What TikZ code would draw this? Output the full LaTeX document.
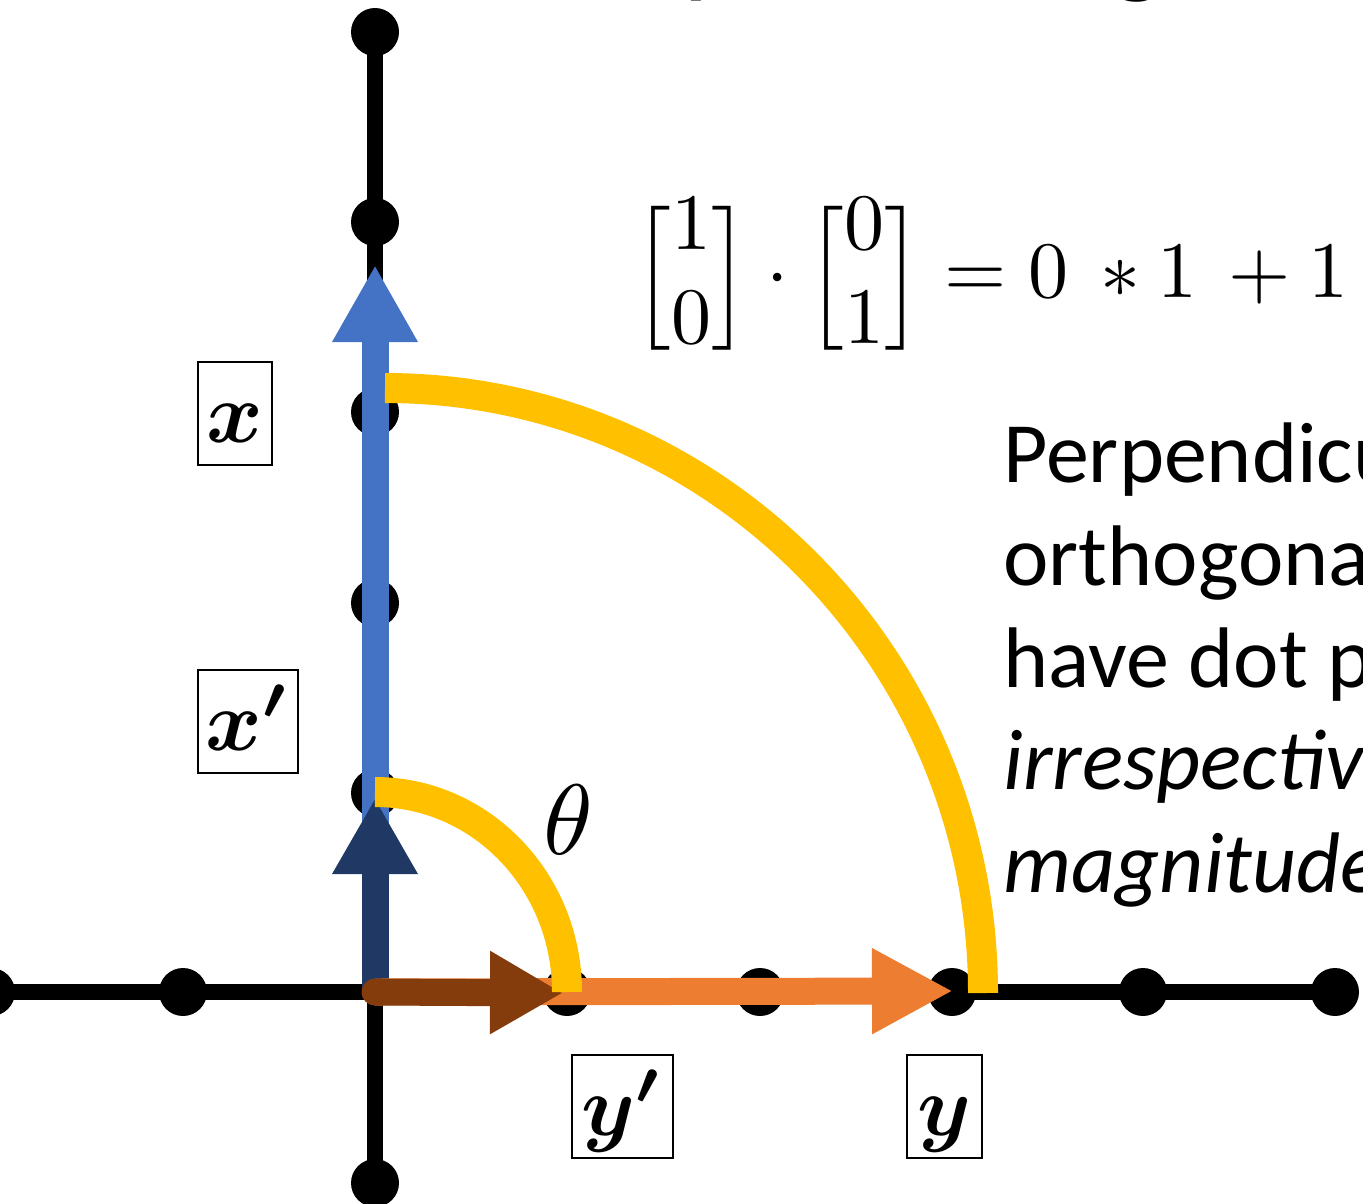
\documentclass[tikz,border=0pt]{standalone}
\usepackage{amsmath}
\usepackage{graphicx}
\usepackage{fontspec}
\setmainfont{Carlito}
\usetikzlibrary{arrows.meta}
\definecolor{vblue}{HTML}{4472C4}
\definecolor{vnavy}{HTML}{203864}
\definecolor{vbrown}{HTML}{843C0C}
\definecolor{vorange}{HTML}{ED7D31}
\definecolor{vyellow}{HTML}{FFC000}
\newcommand{\bigmath}[2]{\scalebox{#1}{\fontsize{10}{11.75}\selectfont$#2$}}
\begin{document}
\begin{tikzpicture}[x=0.5pt,y=-0.5pt,
  dot/.style={circle,fill=black,inner sep=0pt,minimum size=24pt},
  axisline/.style={line width=8pt,draw=black},
  vec/.style={line width=13.5pt},
  arcline/.style={line width=15pt,draw=vyellow},
  lab/.style={draw,line width=1pt,inner sep=0pt,text height=40pt,text depth=11.5pt,
              anchor=north west},
  body/.style={inner sep=0pt,anchor=base west,font=\fontsize{43}{51}\selectfont}]
\useasboundingbox (0,0) rectangle (1363,1203);

% title (cut at top)
\node[inner sep=0pt,anchor=base west,font=\fontsize{57.5}{60}\selectfont] (title) at (630,-17) {Special Angles};

% axes dots
\node[dot] (v1) at (375,32) {};
\node[dot] (v2) at (375,222) {};
\node[dot] (v3) at (375,412) {};
\node[dot] (v4) at (375,603) {};
\node[dot] (v5) at (375,793) {};
\node[dot] (v6) at (375,1183) {};
\node[dot] (h0) at (-9,992) {};
\node[dot] (h1) at (183,992) {};
\node[dot] (h2) at (567,992) {};
\node[dot] (h3) at (760,992) {};
\node[dot] (h4) at (952,992) {};
\node[dot] (h5) at (1143,992) {};
\node[dot] (h6) at (1335,992) {};
\draw[axisline] (v1.center) -- (v6.center);
\draw[axisline] (h0.center) -- (h6.center);

% vectors
\coordinate (O) at (375,992);
\coordinate (xtip) at (375,265);
\coordinate (xptip) at (375,798);
\coordinate (ytip) at (953,991);
\coordinate (yptip) at (563,993);
\draw[vec,vblue,-{Triangle[length=38.5pt,width=40pt]}] (O) -- (xtip);
\draw[vec,vnavy,-{Triangle[length=38pt,width=40pt]}] (O) -- (xptip);
\draw[vec,vorange,-{Triangle[length=40.5pt,width=40pt]}] (O) -- (ytip);
\draw[vec,vbrown,line cap=round,-{Triangle[length=36.5pt,width=39pt]}] (O) -- (yptip);

% angle arcs
\coordinate (bigstart) at (385,388);
\coordinate (smallstart) at (375,792);
\draw[arcline] (bigstart) arc[start angle=90,end angle=0,x radius=299pt,y radius=302.5pt];
\draw[arcline] (smallstart) arc[start angle=90,end angle=0,x radius=96pt,y radius=100pt];
\node[inner sep=0pt] (theta) at (568,820) {\bigmath{5}{\theta}};

% labels
\node[lab,minimum width=37pt] (lx) at (197,361) {\bigmath{4.3}{\boldsymbol{x}}};
\node[lab,minimum width=50pt] (lxp) at (197,669) {\bigmath{4.3}{\boldsymbol{x'}}};
\node[lab,minimum width=50.5pt] (lyp) at (571,1054) {\bigmath{4.3}{\boldsymbol{y'}}};
\node[lab,minimum width=37.5pt] (ly) at (906,1054) {\bigmath{4.3}{\boldsymbol{y}}};

% equation
\node[inner sep=0pt,anchor=west] (eq) at (633,278)
  {\bigmath{4}{\Big[\begin{matrix}1\\0\end{matrix}\Big]\cdot\Big[\begin{matrix}0\\1\end{matrix}\Big] = 0 \,\ast 1 \,+ 1}};

% text
\node[body] (t1) at (1003,482) {Perpendicu};
\node[body] (t2) at (1003,585) {orthogona};
\node[body] (t3) at (1003,687) {have dot p};
\node[body] (t4) at (1003,789) {\itshape irrespectiv};
\node[body] (t5) at (1003,892) {\itshape magnitude};
\end{tikzpicture}
\end{document}
